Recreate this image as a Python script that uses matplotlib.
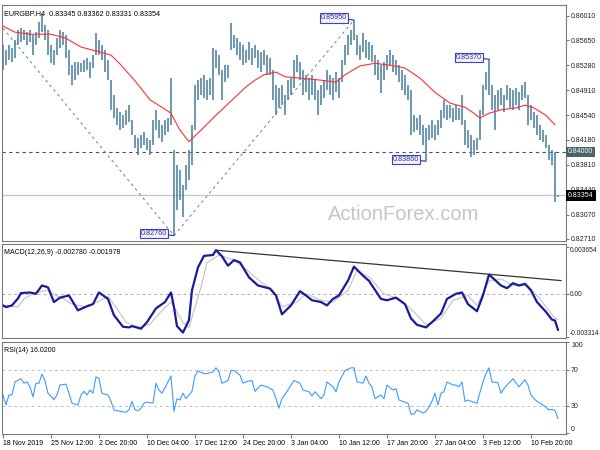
import numpy as np
import matplotlib
matplotlib.use("Agg")
import matplotlib.pyplot as plt
from matplotlib.transforms import blended_transform_factory

plt.rcParams['font.family'] = ['Liberation Sans', 'DejaVu Sans']

# EURGBP H4 bars (high / low)
bar_high = [
    .8558, .8551, .8558, .8554, .8566, .8580, .8583, .8580, .8577, .8580,
    .8573, .8577, .8592, .8604, .8588, .8580, .8558, .8551, .8568, .8580,
    .8577, .8573, .8551, .8529, .8533, .8533, .8531, .8536, .8539, .8533,
    .8543, .8576, .8566, .8558, .8551, .8536, .8506, .8484, .8465, .8459,
    .8454, .8462, .8469, .8447, .8425, .8420, .8425, .8429, .8420, .8418,
    .8447, .8462, .8447, .8440, .8447, .8450, .8509, .8403, .8381, .8373,
    .8351, .8381, .8403, .8440, .8499, .8506, .8509, .8514, .8506, .8509,
    .8554, .8551, .8543, .8521, .8529, .8529, .8591, .8573, .8568, .8563,
    .8558, .8551, .8563, .8554, .8558, .8551, .8548, .8551, .8543, .8539,
    .8521, .8499, .8494, .8499, .8484, .8506, .8509, .8536, .8543, .8533,
    .8521, .8514, .8509, .8514, .8506, .8491, .8499, .8506, .8521, .8514,
    .8509, .8518, .8509, .8536, .8558, .8573, .8580, .8595, .8573, .8558,
    .8576, .8566, .8563, .8558, .8543, .8536, .8529, .8533, .8543, .8551,
    .8543, .8536, .8529, .8521, .8514, .8499, .8491, .8454, .8450, .8454,
    .8440, .8435, .8440, .8447, .8440, .8447, .8462, .8477, .8469, .8469,
    .8465, .8469, .8465, .8484, .8447, .8432, .8425, .8418, .8420, .8462,
    .8499, .8518, .8537, .8499, .8484, .8491, .8494, .8484, .8499, .8494,
    .8491, .8494, .8488, .8499, .8503, .8484, .8469, .8459, .8454, .8440,
    .8432, .8425, .8410, .8403, .8400, .83362,
]
bar_low = [
    .8521, .8529, .8536, .8533, .8539, .8558, .8563, .8566, .8558, .8563,
    .8543, .8558, .8568, .8577, .8566, .8543, .8531, .8529, .8543, .8554,
    .8558, .8539, .8514, .8499, .8506, .8514, .8518, .8518, .8521, .8509,
    .8524, .8543, .8543, .8536, .8518, .8506, .8462, .8450, .8440, .8432,
    .8435, .8440, .8444, .8425, .8406, .8395, .8406, .8410, .8403, .8395,
    .8410, .8432, .8420, .8415, .8425, .8429, .8440, .8276, .8314, .8329,
    .8303, .8343, .8358, .8381, .8432, .8477, .8484, .8480, .8477, .8484,
    .8477, .8524, .8514, .8477, .8503, .8509, .8551, .8554, .8543, .8536,
    .8529, .8531, .8536, .8529, .8539, .8524, .8518, .8529, .8514, .8514,
    .8477, .8454, .8465, .8469, .8454, .8477, .8484, .8494, .8518, .8506,
    .8484, .8488, .8477, .8484, .8477, .8454, .8469, .8480, .8491, .8484,
    .8477, .8488, .8480, .8503, .8529, .8543, .8558, .8566, .8543, .8536,
    .8548, .8539, .8536, .8533, .8514, .8506, .8487, .8506, .8521, .8529,
    .8518, .8514, .8503, .8491, .8484, .8477, .8425, .8429, .8432, .8425,
    .8410, .8386, .8418, .8420, .8418, .8425, .8435, .8450, .8447, .8450,
    .8444, .8447, .8447, .8440, .8410, .8406, .8392, .8395, .8403, .8418,
    .8454, .8491, .8484, .8462, .8432, .8462, .8469, .8459, .8477, .8465,
    .8462, .8469, .8462, .8477, .8480, .8440, .8447, .8435, .8425, .8418,
    .8415, .8406, .8388, .8381, .8326, .83331,
]

# 55-period moving average (red), sampled at bar numbers
ma_bar = [0, 4, 9, 16, 21, 26, 32, 36, 39, 44, 49, 54, 56, 59, 62, 66, 71, 76,
          81, 84, 87, 91, 94, 99, 106, 111, 114, 119, 124, 129, 134, 139, 144,
          149, 154, 157, 159, 162, 166, 171, 174, 177, 181, 184]
ma_val = [.8586, .8577, .8574, .8574, .8568, .8555, .8548, .8543, .8530, .8505,
          .8477, .8463, .8457, .8432, .8415, .8432, .8454, .8475, .8496, .8506,
          .8514, .8518, .8511, .8509, .8506, .8503, .8514, .8527, .8531, .8528,
          .8524, .8509, .8488, .8472, .8466, .8457, .8450, .8457, .8462, .8465,
          .8469, .8465, .8454, .8440]

# MACD(12,26,9) main and signal
macd_bar = [0, 1, 3, 5, 6, 9, 11, 13, 15, 17, 19, 22, 25, 28, 30, 32, 35, 37,
            40, 42, 43, 46, 48, 51, 54, 56, 57, 58, 60, 62, 63, 65, 67, 70, 71,
            73, 75, 77, 79, 82, 85, 89, 91, 93, 96, 99, 101, 103, 106, 108, 110,
            112, 115, 117, 120, 122, 126, 128, 131, 134, 136, 138, 141, 143,
            146, 148, 151, 153, 155, 158, 160, 162, 163, 166, 168, 170, 172,
            174, 176, 178, 181, 183, 184, 185]
macd_val = [-0.0009, -0.00103, -0.0009, -0.00036, 0.00005, 0.0001, 0.0, 0.00064,
            0.0005, -0.00064, -0.0003, -0.00013, -0.00128, -0.00097, -0.0008,
            0.0001, -0.0004, -0.00166, -0.00255, -0.0026, -0.0025, -0.0027,
            -0.0022, -0.00113, -0.00064, 0.0001, -0.00102, -0.0025, -0.003,
            -0.00204, 0.00026, 0.00204, 0.00293, 0.003, 0.00337, 0.0029,
            0.00217, 0.0026, 0.00243, 0.00127, 0.00064, 0.0004, -0.00013,
            -0.00159, -0.0009, 0.0002, -0.00013, -0.0005, -0.00064, -0.0009,
            -0.0004, -0.00013, 0.00102, 0.0021, 0.0014, 0.001, -0.0004,
            -0.0005, -0.0003, -0.0008, -0.0019, -0.0024, -0.0026, -0.0022,
            -0.00153, -0.0004, 0.0, 0.0001, -0.0008, -0.00135, -0.00013,
            0.00148, 0.00128, 0.00064, 0.00043, 0.00082, 0.00064, 0.00077,
            0.00026, -0.00064, -0.0014, -0.002, -0.00207, -0.00278]
sig_bar = [0, 5, 7, 10, 15, 17, 20, 23, 27, 31, 35, 38, 41, 45, 49, 53, 56, 60,
           62, 66, 68, 72, 77, 81, 86, 90, 93, 98, 101, 106, 110, 115, 118, 122,
           127, 132, 137, 141, 146, 150, 155, 158, 162, 166, 170, 175, 179, 184,
           185]
sig_val = [-0.00089, -0.00102, -0.00038, 0.0, 0.0003, -0.00005, -0.00038, -0.0008,
           -0.001, -0.0007, -0.0002, -0.00115, -0.0022, -0.0026, -0.00235,
           -0.0013, -0.00064, -0.0022, -0.0026, 0.0005, 0.0024, 0.003, 0.0026,
           0.0019, 0.0009, 0.00026, -0.001, -0.00064, 0.0, -0.0005, -0.00064,
           0.00026, 0.0018, 0.0013, 0.0, -0.0004, -0.0014, -0.0024, -0.0019,
           -0.0005, -0.00013, -0.0009, 0.001, 0.00115, 0.00064, 0.00064,
           -0.0004, -0.0019, -0.001978]
macd_trend_bar = [71, 186]
macd_trend_val = [0.00337, 0.00102]

# RSI(14)
rsi_bar = [0, 1, 2, 3, 4, 6, 7, 8, 9, 10, 11, 12, 13, 14, 15, 17, 18, 19, 21,
           22, 23, 25, 26, 27, 28, 29, 30, 31, 32, 33, 35, 36, 37, 39, 41, 42,
           43, 44, 45, 46, 47, 48, 50, 51, 52, 53, 54, 55, 56, 57, 58, 59, 60,
           61, 62, 63, 64, 65, 67, 68, 70, 71, 72, 73, 75, 76, 77, 79, 80, 81,
           83, 84, 86, 88, 90, 91, 92, 93, 95, 96, 97, 98, 99, 100, 102, 103,
           104, 105, 106, 107, 108, 110, 111, 112, 114, 116, 117, 118, 120, 121,
           122, 123, 124, 126, 127, 128, 130, 131, 132, 134, 135, 136, 137, 138,
           140, 141, 142, 143, 144, 145, 146, 147, 148, 150, 151, 152, 153, 154,
           155, 156, 158, 159, 160, 161, 162, 163, 165, 166, 167, 168, 170, 172,
           174, 175, 176, 177, 178, 180, 182, 183, 184, 185]
rsi_val = [42, 31, 42, 42, 56.5, 60, 55, 56.5, 51, 40, 55, 55, 65, 58, 44, 37, 42,
           53, 54, 44, 33, 31, 42, 46, 42, 47.5, 44, 62, 60, 44, 42, 35, 25.6, 24,
           23, 25.6, 35, 26, 24.5, 27.5, 33, 34, 33, 55, 47.5, 44, 50, 56.5, 63,
           24, 38, 36.5, 44, 38, 42, 46, 63, 68.5, 65.6, 65.6, 67.5, 72, 67.5, 55,
           58, 69, 69, 64, 55, 56.5, 58, 46, 53, 51, 47.5, 38, 27.5, 38, 47.5, 53,
           58, 56.5, 55, 47.5, 45.6, 41, 45.6, 42, 38, 42, 56.5, 51, 45.6, 56.5,
           69, 72, 72, 56.5, 55, 63, 55, 51, 38, 42, 38, 53, 47.5, 49, 36.5, 34,
           33, 21, 21, 25.6, 22, 24, 29, 35, 44, 31, 44, 45.6, 56.5, 53, 53, 51,
           56.5, 35, 36.5, 35, 33, 45, 56.5, 65.6, 72, 56.5, 55.5, 44, 49, 53,
           60, 51, 59, 53, 42, 38, 35, 31, 25.6, 26, 25, 16.02]

# swing lines and labelled swing points
swing_bar = [0, 57, 117]
swing_val = [0.8583, 0.8276, 0.8595]
label_bar = [57, 117, 141, 162]
label_val = [0.82760, 0.85950, 0.83860, 0.85370]

price_ticks = [0.86010, 0.85650, 0.85280, 0.84910, 0.84540, 0.84180,
               0.83810, 0.83440, 0.83070, 0.82710]
level_line = 0.84000
last_price = 0.83354
time_ticks = [0, 16, 32, 48, 64, 80, 96, 112, 128, 144, 160, 176]
time_labels = ["18 Nov 2019", "25 Nov 12:00", "2 Dec 20:00", "10 Dec 04:00",
               "17 Dec 12:00", "24 Dec 20:00", "3 Jan 04:00", "10 Jan 12:00",
               "17 Jan 20:00", "27 Jan 04:00", "3 Feb 12:00", "10 Feb 20:00"]

FS = 5.0
edge = '#7a7a7a'
fig = plt.figure(figsize=(6, 4.5), dpi=100)
ax1 = fig.add_axes([0.0033, 0.4645, 0.94, 0.5245])
ax2 = fig.add_axes([0.0033, 0.2489, 0.94, 0.2089])
ax3 = fig.add_axes([0.0033, 0.0356, 0.94, 0.2044])

xs = np.arange(len(bar_high))
for ax in (ax1, ax2, ax3):
    ax.set_xlim(-0.33, 187.67)
    for s in ax.spines.values():
        s.set_color(edge)
        s.set_linewidth(0.8)
    ax.yaxis.tick_right()
    ax.tick_params(axis='y', direction='out', length=2.5, pad=1.2, labelsize=FS,
                   colors='#222222')
    ax.tick_params(axis='y', color=edge)
    ax.set_xticks(time_ticks)
    ax.tick_params(axis='x', length=0, labelbottom=False)

# price panel
ax1.set_ylim(0.82680, 0.86173)
ax1.axhline(level_line, color='#3d5c5c', lw=0.8, ls=(0, (3, 3)))
ax1.axhline(last_price, color='#c8c8c8', lw=1.0)
ax1.plot(swing_bar, swing_val, color='#7f9090', lw=0.8, ls=(0, (2.5, 3)))
ax1.vlines(xs, bar_low, bar_high, color='#5586a3', lw=1.2)
ax1.plot(ma_bar, ma_val, color='#ff3030', lw=0.8)
ax1.set_yticks(price_ticks)
ax1.set_yticklabels([f"{v:.5f}" for v in price_ticks])
ax1.text(2.5 / 564, 0.975, "EURGBP.H4  0.83345 0.83362 0.83331 0.83354",
         transform=ax1.transAxes, fontsize=5.2, va='top', ha='left')
ax1.text(0.578, 0.07, "ActionForex.com", transform=ax1.transAxes,
         fontsize=14.5, color='#c6c6c6', ha='left', va='bottom')
for b, v in zip(label_bar, label_val):
    ax1.annotate(f"{v:.5f}", xy=(b, v), xytext=(-5, 1.5), textcoords='offset points',
                 ha='right', va='center', fontsize=5.2, color='#3030a0',
                 bbox=dict(boxstyle='square,pad=0.15', fc='#f2f2ff', ec='#4040c0', lw=0.8),
                 arrowprops=dict(arrowstyle='-', color='#303090', lw=0.8,
                                 shrinkA=0, shrinkB=0))
tr = blended_transform_factory(ax1.transAxes, ax1.transData)
ax1.text(1.004, level_line, f"{level_line:.5f}", transform=tr, fontsize=FS,
         color='white', va='center', ha='left', zorder=10,
         bbox=dict(boxstyle='square,pad=0.25', fc='#4a6565', ec='none'))
ax1.text(1.004, last_price, f"{last_price:.5f}", transform=tr, fontsize=FS,
         color='white', va='center', ha='left', zorder=10,
         bbox=dict(boxstyle='square,pad=0.3', fc='black', ec='none'))

# MACD panel
ax2.set_ylim(-0.00342, 0.00385)
ax2.axhline(0, color='#b0b0b0', lw=0.7, ls=(0, (3, 3)))
ax2.plot(sig_bar, sig_val, color='#c8c8c8', lw=0.9)
ax2.plot(macd_bar, macd_val, color='#1a1a9c', lw=1.6)
ax2.plot(macd_trend_bar, macd_trend_val, color='#333333', lw=0.9)
ax2.set_yticks([0.003654, 0.0, -0.003314])
ax2.set_yticklabels(["0.003654", "0.00", "-0.003314"])
ax2.tick_params(axis='y', pad=0.5, labelsize=4.8)
ax2.get_yticklabels()[0].set_va('top')
ax2.get_yticklabels()[2].set_va('bottom')
ax2.text(2.5 / 564, 0.95, "MACD(12,26,9) -0.002780 -0.001978",
         transform=ax2.transAxes, fontsize=FS, va='top', ha='left')

# RSI panel
ax3.set_ylim(-1, 100.5)
for lv in (70, 30):
    ax3.axhline(lv, color='#c0c0c0', lw=0.7, ls=(0, (3, 3)))
ax3.plot(rsi_bar, rsi_val, color='#3d9bff', lw=0.8)
ax3.set_yticks([100, 70, 30, 0])
ax3.set_yticklabels(["100", "70", "30", "0"])
ax3.get_yticklabels()[0].set_va('top')
ax3.get_yticklabels()[3].set_va('bottom')
ax3.text(2.5 / 564, 0.95, "RSI(14) 16.0200", transform=ax3.transAxes,
         fontsize=FS, va='top', ha='left')
ax3.set_xticks(time_ticks)
ax3.set_xticklabels(time_labels, ha='left')
ax3.tick_params(axis='x', length=3, direction='out', color=edge, pad=1.5,
                labelsize=FS, labelbottom=True)

fig.savefig("out.png", dpi=100)
